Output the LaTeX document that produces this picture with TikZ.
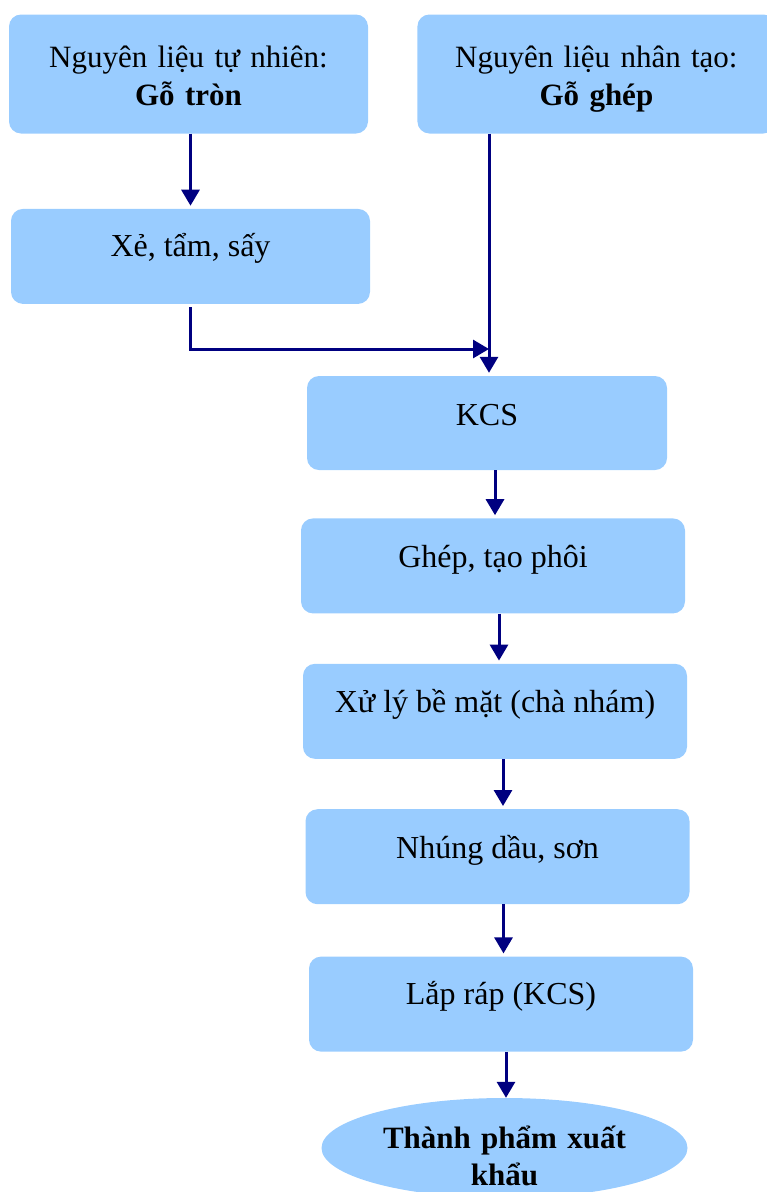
\documentclass[tikz,border=0pt]{standalone}
\usepackage{fontspec}
\setmainfont{Liberation Serif}
\usepackage{xcolor}
\usepackage{tikz}
\usetikzlibrary{shapes.geometric,arrows.meta,positioning,calc}
\definecolor{boxblue}{HTML}{99CCFF}
\definecolor{flownavy}{HTML}{000080}

\begin{document}
\begin{tikzpicture}[
  x=1pt,y=-1pt,
  every node/.style={font=\fontsize{32}{38}\selectfont,align=center,inner sep=0pt},
  box/.style={rectangle,rounded corners=12pt,fill=boxblue},
  source/.style={box,font=\fontsize{31}{38}\selectfont,minimum width=359pt,text width=340pt,text height=53pt,text depth=66pt},
  stagebox/.style={box,minimum width=384pt,text height=49pt,text depth=46pt},
  goal/.style={ellipse,fill=boxblue,minimum width=366pt,minimum height=100pt},
  arrow/.style={-{Triangle[length=16pt,width=18pt]},line width=3pt,draw=flownavy,shorten >=3pt}
]
\useasboundingbox (0,0) rectangle (767,1192);

\node[source] (logs) at (188.5,74) {Nguyên liệu tự nhiên:\\\textbf{Gỗ tròn}};
\node[source,minimum width=358pt,right=49pt of logs] (glulam) {Nguyên liệu nhân tạo:\\\textbf{Gỗ ghép}};
\node[box,minimum width=359pt,text height=48pt,text depth=47pt,below=75pt of logs,xshift=2pt] (saw) {Xẻ, tẩm, sấy};
\node[box,minimum width=360pt,text height=49pt,text depth=45pt] (kcs) at (487,423) {KCS};
\node[stagebox,below=48pt of kcs,xshift=6pt] (join) {Ghép, tạo phôi};
\node[stagebox,below=50pt of join,xshift=2pt] (sand) {Xử lý bề mặt (chà nhám)};
\node[stagebox,below=50pt of sand,xshift=2.5pt] (oil) {Nhúng dầu, sơn};
\node[stagebox,below=52pt of oil,xshift=3.5pt,text height=48pt,text depth=47pt] (assemble) {Lắp ráp (KCS)};
\node[goal,below=46pt of assemble,xshift=3.5pt] (product) {};
\node[font=\bfseries\fontsize{31}{37}\selectfont,text width=340pt,anchor=base] (product-t) at ([yshift=-51pt]product.north) {Thành phẩm xuất\\khẩu};

\coordinate (drop) at (489,349);

\draw[arrow] (logs.south -| saw.north) -- (saw.north);
\draw[arrow,shorten >=0pt] ([xshift=-0.5pt,yshift=-3pt]saw.south) |- (drop);
\draw[arrow] (glulam.south -| drop) -- (kcs.north -| drop);
\draw[arrow] ([xshift=8pt]kcs.south) -- ([xshift=8pt]kcs.south |- join.north);
\draw[arrow] ([xshift=6pt]join.south) -- ([xshift=6pt]join.south |- sand.north);
\draw[arrow] ([xshift=8pt]sand.south) -- ([xshift=8pt]sand.south |- oil.north);
\draw[arrow] ([xshift=6pt]oil.south) -- ([xshift=6pt]oil.south |- assemble.north);
\draw[arrow,shorten >=0pt] ([xshift=5pt]assemble.south) -- ([xshift=5pt]assemble.south |- product.north);
\end{tikzpicture}
\end{document}
